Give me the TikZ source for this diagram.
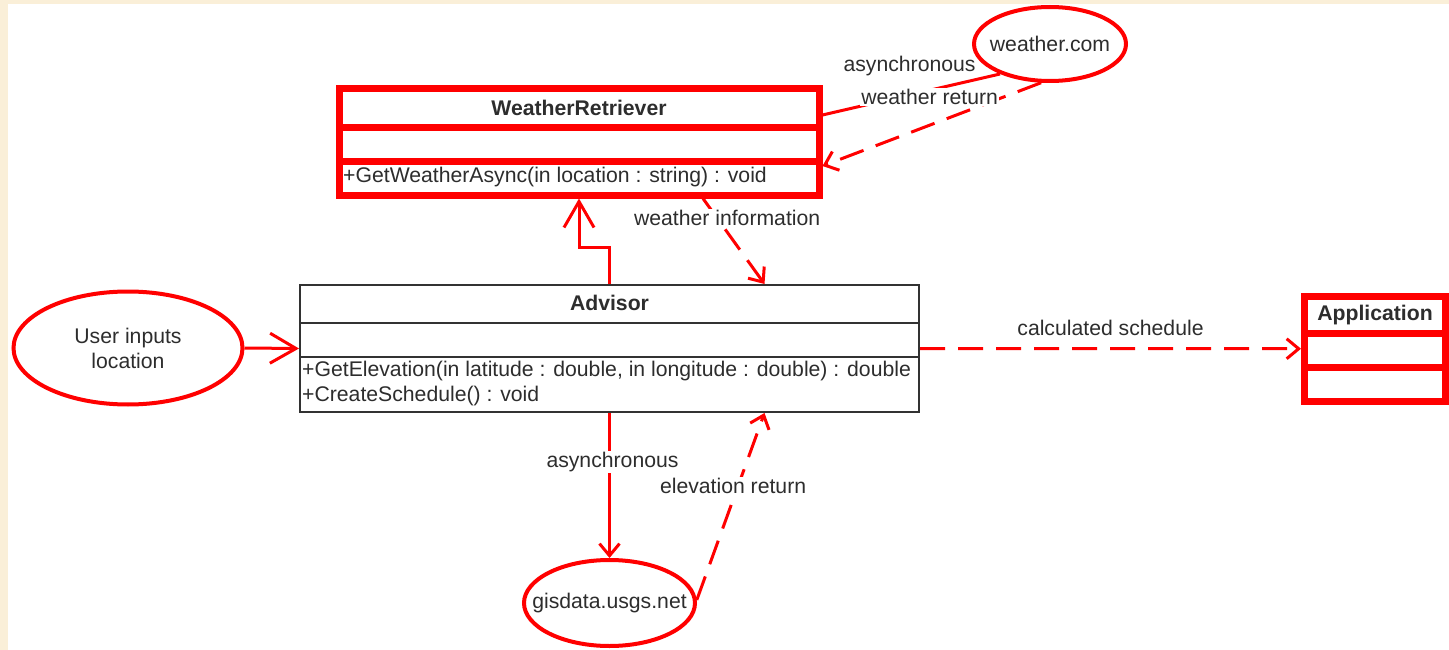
\documentclass[tikz,border=0pt]{standalone}
\usepackage{fontspec}
\setmainfont{Liberation Sans}
\usetikzlibrary{arrows.meta,shapes.geometric}
\definecolor{beige}{RGB}{250,239,216}
\definecolor{txt}{RGB}{45,45,45}
\definecolor{umlred}{RGB}{255,0,0}
\definecolor{boxline}{RGB}{50,50,50}
\begin{document}
\begin{tikzpicture}[x=1pt,y=-1pt,
  font=\fontsize{21.2}{25}\selectfont, text=txt,
  redbox/.style={draw=umlred, line width=7pt, fill=white, inner sep=0pt},
  blackbox/.style={draw=boxline, line width=2pt, fill=white, inner sep=0pt},
  oval/.style={ellipse, draw=umlred, line width=4pt, fill=white, inner sep=0pt},
  conn/.style={draw=umlred, line width=3pt},
  dconn/.style={conn, dash pattern=on 25pt off 13pt},
  bigtip/.style={-{Straight Barb[length=26pt,width=30pt,line width=3pt]}},
  smalltip/.style={-{Straight Barb[length=12pt,width=20pt,line width=3pt]}},
  lbl/.style={fill=white, inner sep=1pt, text=txt},
  title/.style={font=\fontsize{21.2}{25}\selectfont\bfseries, inner sep=0pt},
  meth/.style={anchor=west, inner sep=0pt}
]
% background
\fill[beige] (0,0) rectangle (1449,650);
\fill[white] (8,4) rectangle (1449,650);
\useasboundingbox (0,0) rectangle (1449,650);

% WeatherRetriever
\node[redbox, minimum width=480pt, minimum height=106pt] (wr) at (579,142) {};
\draw[umlred, line width=7pt] (339,127.5) -- (819,127.5);
\draw[umlred, line width=7pt] (339,161.5) -- (819,161.5);
\node[title] (wrt) at (579,108) {WeatherRetriever};
\node[meth] (wrm) at (343,177) {+GetWeatherAsync(in location : string) : void};

% Advisor
\node[blackbox, minimum width=619pt, minimum height=127pt] (adv) at (609.5,348.5) {};
\draw[boxline, line width=2pt] (300,322.5) -- (919,322.5);
\draw[boxline, line width=2pt] (300,356.5) -- (919,356.5);
\node[title] (advt) at (609.5,303) {Advisor};
\node[meth] (advm1) at (302,371) {+GetElevation(in latitude : double, in longitude : double) : double};
\node[meth] (advm2) at (302,396) {+CreateSchedule() : void};

% Application
\node[redbox, minimum width=141pt, minimum height=104.5pt] (app) at (1375,348.75) {};
\draw[umlred, line width=7pt] (1304.5,333.5) -- (1445.5,333.5);
\draw[umlred, line width=7pt] (1304.5,367) -- (1445.5,367);
\node[title] (appt) at (1375,315) {Application};

% ellipses
\node[oval, minimum width=152pt, minimum height=74pt] (wc) at (1050,44) {};
\node (wct) at (wc.center) {weather.com};
\node[oval, minimum width=229pt, minimum height=113pt] (user) at (128,348) {};
\node[align=center] (usert) at (user.center) {User inputs\\location};
\node[oval, minimum width=171pt, minimum height=86pt] (gis) at (609.5,603) {};
\node (gist) at (gis.center) {gisdata.usgs.net};

% connectors
\draw[conn] (wc.211) -- ([yshift=27pt]wr.east)
  node[pos=0.51, yshift=29pt, inner sep=1pt] (l1) {asynchronous};
\draw[dconn, smalltip] (wc.257) -- ([yshift=-24pt]wr.east)
  node[lbl, pos=0.51, yshift=28pt] (l2) {weather return};
\draw[conn, bigtip] (adv.north) -- ++(0,-37) -| (wr.south);
\draw[dconn, smalltip] ([xshift=124pt]wr.south) -- ([xshift=155pt]adv.north)
  node[lbl, pos=0.23, xshift=10pt] (l3) {weather information};
\draw[conn, bigtip] (user.east) -- (adv.west);
\draw[dconn, smalltip] (adv.east) -- (app.west)
  node[midway, yshift=21pt, inner sep=1pt] (l4) {calculated schedule};
\draw[conn, smalltip] (adv.south) -- (gis.north)
  node[lbl, pos=0.34, xshift=3pt] (l5) {asynchronous};
\draw[dconn, smalltip] (gis.2) -- ([xshift=155pt]adv.south)
  node[lbl, pos=0.61, xshift=-5pt] (l6) {elevation return};
\end{tikzpicture}
\end{document}
